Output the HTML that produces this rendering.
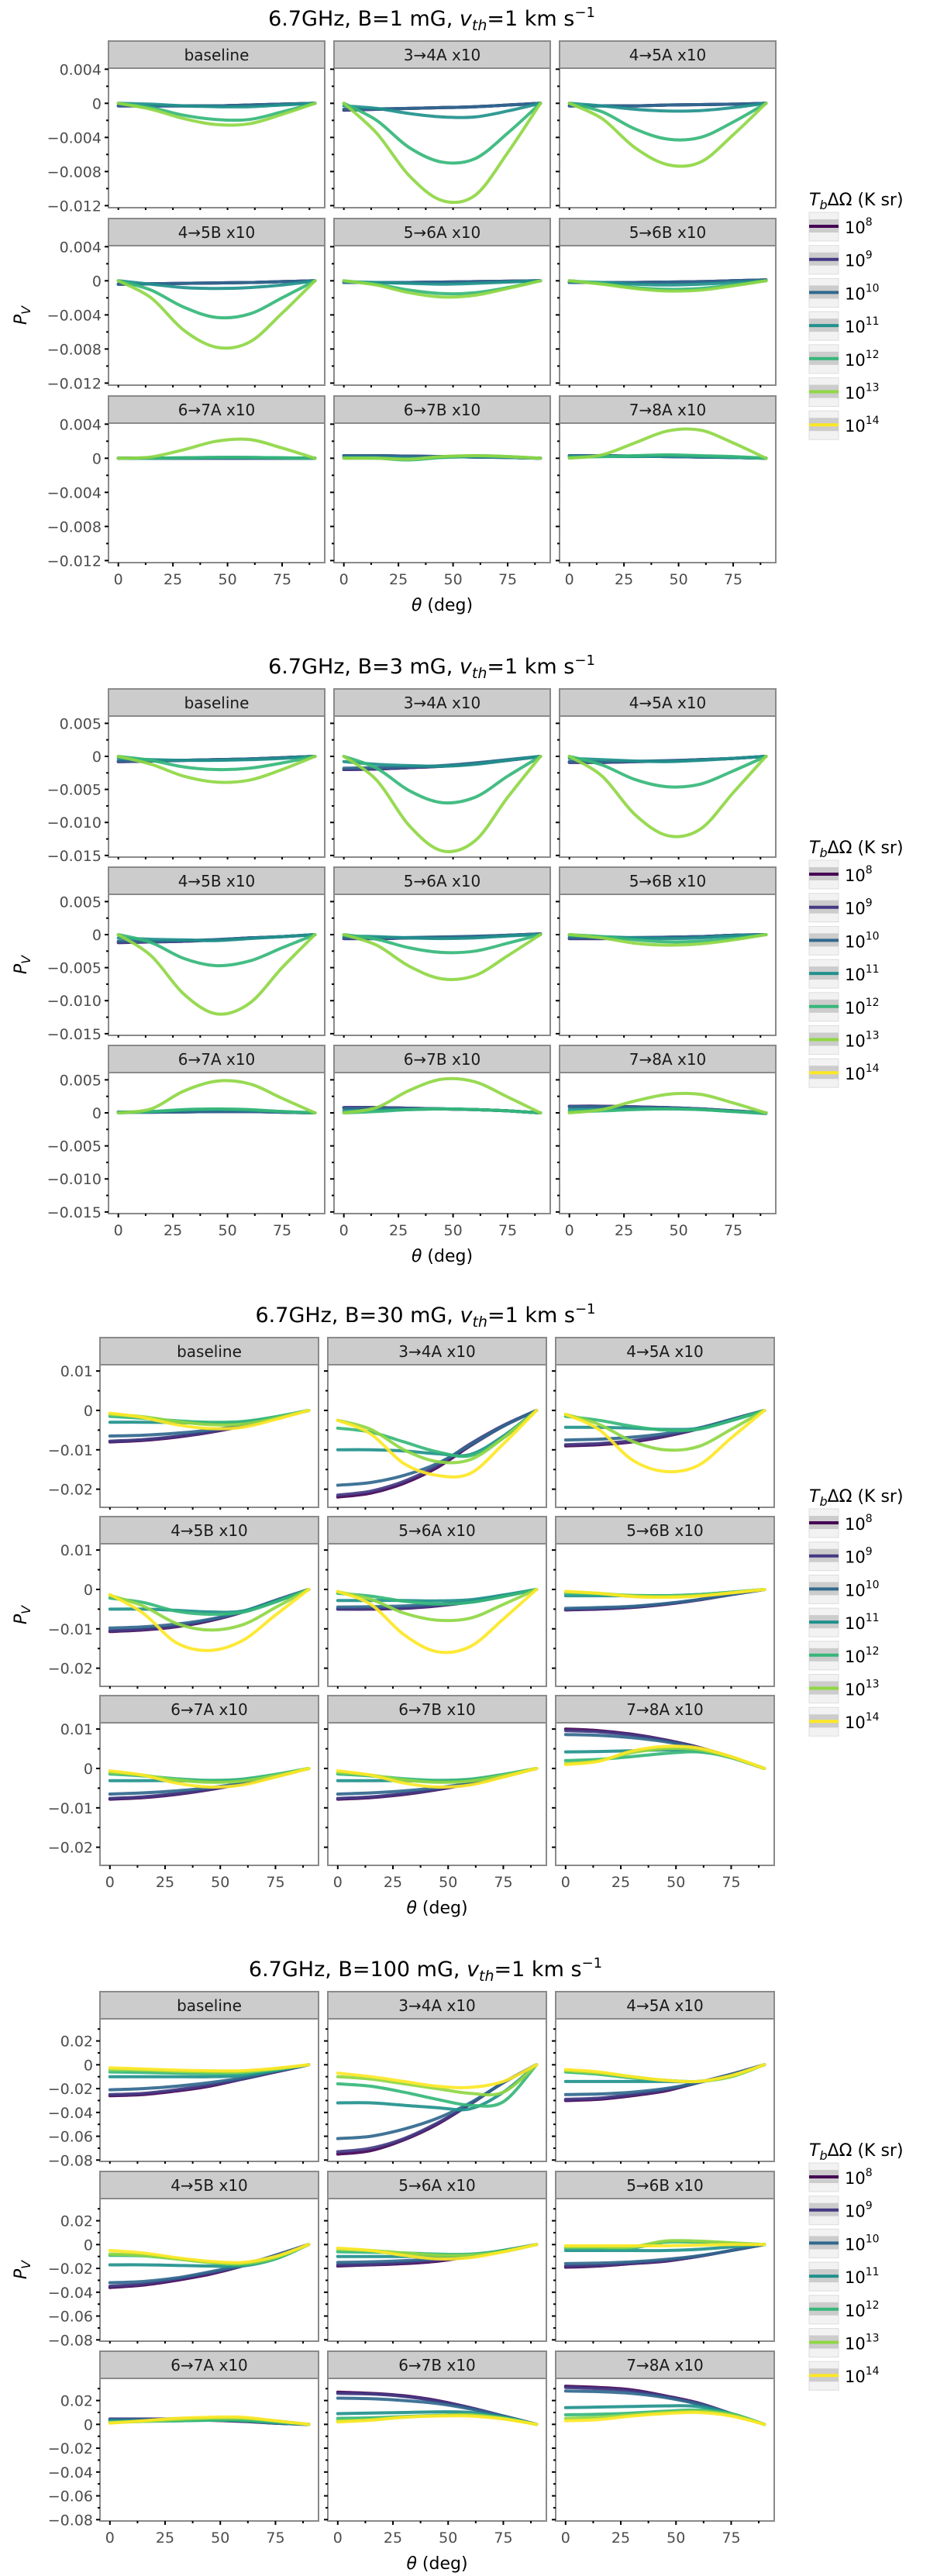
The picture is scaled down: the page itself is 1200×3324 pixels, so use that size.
<!DOCTYPE html>
<html><head><meta charset="utf-8"><style>
html,body{margin:0;padding:0;background:#fff}
svg{display:block}
text{font-family:"DejaVu Sans","Liberation Sans",sans-serif}
</style></head><body>
<svg id="root" width="1200" height="3324" xmlns="http://www.w3.org/2000/svg"></svg>
<script>
const panelNames = ['baseline','3→4A x10','4→5A x10','4→5B x10','5→6A x10','5→6B x10','6→7A x10','6→7B x10','7→8A x10'];
const seriesLabels = ['8','9','10','11','12','13','14'];
const seriesColors = ['#440154','#443983','#31688e','#21918c','#35b779','#8fd744','#fde725'];
const thetas = [0,15,30,45,60,75,90];
const xTicks = [0,25,50,75];
const titleB = ['1','3','30','100'];
const yTicksB1 = [0.004,0,-0.004,-0.008,-0.012];
const yTicksB3 = [0.005,0,-0.005,-0.010,-0.015];
const yTicksB30 = [0.01,0,-0.01,-0.02];
const yTicksB100 = [0.02,0,-0.02,-0.04,-0.06,-0.08];
const yLabB1 = ['0.004','0','\u22120.004','\u22120.008','\u22120.012'];
const yLabB3 = ['0.005','0','\u22120.005','\u22120.010','\u22120.015'];
const yLabB30 = ['0.01','0','\u22120.01','\u22120.02'];
const yLabB100 = ['0.02','0','\u22120.02','\u22120.04','\u22120.06','\u22120.08'];
const yLimB1 = [-0.01224,0.00412];
const yLimB3 = [-0.01525,0.0061];
const yLimB30 = [-0.0246,0.0116];
const yLimB100 = [-0.0811,0.0386];
// values (B=1, B=3 in units of 1e-3; B=30 in 1e-3; B=100 in 1e-2); null = not shown
const valsB1 = [
 [[-0.3,-0.3,-0.3,-0.3,-0.2,-0.1,0],[-0.3,-0.3,-0.3,-0.3,-0.2,-0.1,0],[-0.3,-0.3,-0.3,-0.3,-0.2,-0.1,0],[0,-0.1,-0.3,-0.4,-0.4,-0.2,0],[0,-0.5,-1.4,-1.9,-1.9,-1.0,0],[0,-0.7,-1.8,-2.5,-2.4,-1.3,0],null],
 [[-0.8,-0.7,-0.6,-0.5,-0.4,-0.2,0],[-0.8,-0.7,-0.6,-0.5,-0.4,-0.2,0],[-0.7,-0.65,-0.6,-0.5,-0.4,-0.2,0],[-0.3,-0.6,-1.2,-1.6,-1.6,-0.9,0],[0,-2.0,-5.2,-6.9,-6.5,-3.5,0],[0,-3.5,-8.5,-11.4,-10.8,-5.8,0],null],
 [[-0.3,-0.3,-0.3,-0.2,-0.15,-0.1,0],[-0.3,-0.3,-0.3,-0.2,-0.15,-0.1,0],[-0.3,-0.3,-0.3,-0.2,-0.15,-0.1,0],[0,-0.3,-0.7,-0.9,-0.85,-0.5,0],[0,-1.0,-3.0,-4.2,-4.0,-2.2,0],[0,-1.8,-5.2,-7.2,-6.9,-3.7,0],null],
 [[-0.4,-0.35,-0.3,-0.25,-0.2,-0.1,0],[-0.4,-0.35,-0.3,-0.25,-0.2,-0.1,0],[-0.4,-0.35,-0.3,-0.25,-0.2,-0.1,0],[0,-0.4,-0.8,-0.9,-0.8,-0.5,0],[0,-1.1,-3.1,-4.3,-3.9,-2.0,0],[0,-2.0,-5.8,-7.8,-7.2,-3.8,0],null],
 [[-0.2,-0.2,-0.2,-0.15,-0.1,-0.05,0],[-0.2,-0.2,-0.2,-0.15,-0.1,-0.05,0],[-0.2,-0.2,-0.2,-0.15,-0.1,-0.05,0],[-0.1,-0.2,-0.3,-0.4,-0.3,-0.15,0],[0,-0.4,-1.1,-1.5,-1.4,-0.8,0],[0,-0.5,-1.4,-1.9,-1.7,-0.9,0],null],
 [[-0.2,-0.2,-0.2,-0.15,-0.1,0,0.1],[-0.2,-0.2,-0.2,-0.15,-0.1,0,0.1],[-0.2,-0.2,-0.2,-0.15,-0.1,0,0.1],[-0.1,-0.2,-0.4,-0.5,-0.4,-0.2,0],[0,-0.3,-0.8,-1.0,-0.9,-0.5,0],[0,-0.4,-0.9,-1.2,-1.1,-0.6,0],null],
 [[0,0,0,0,0,0,0],[0,0,0,0,0,0,0],[0,0,0,0,0,0,0],[0,0,0.05,0.1,0.1,0.05,0],[0,0,0.05,0.1,0.1,0.05,0],[0,0.15,1.0,2.0,2.2,1.2,0],null],
 [[0.3,0.3,0.25,0.2,0.15,0.1,0],[0.3,0.3,0.25,0.2,0.15,0.1,0],[0.3,0.3,0.25,0.2,0.15,0.1,0],[0.1,0.1,0,0.1,0.2,0.1,0],[0,0,-0.2,0.1,0.3,0.2,0],[0,0,-0.1,0.2,0.3,0.2,0],null],
 [[0.3,0.3,0.25,0.2,0.15,0.1,0],[0.3,0.3,0.25,0.2,0.15,0.1,0],[0.3,0.3,0.25,0.2,0.15,0.1,0],[0.2,0.2,0.2,0.25,0.2,0.1,0],[0.1,0.2,0.3,0.4,0.3,0.2,0],[0,0.4,1.8,3.2,3.3,1.8,0],null]
];
const valsB3 = [
 [[-0.8,-0.7,-0.6,-0.5,-0.4,-0.2,0],[-0.8,-0.7,-0.6,-0.5,-0.4,-0.2,0],[-0.7,-0.65,-0.6,-0.5,-0.4,-0.2,0],[-0.3,-0.5,-0.6,-0.6,-0.5,-0.3,0],[0,-0.6,-1.6,-2.0,-1.8,-1.0,0],[0,-1.2,-3.0,-3.9,-3.6,-2.0,0],null],
 [[-2.0,-1.9,-1.7,-1.5,-1.1,-0.6,0],[-2.0,-1.9,-1.7,-1.5,-1.1,-0.6,0],[-1.8,-1.7,-1.6,-1.4,-1.0,-0.5,0],[-0.8,-1.2,-1.4,-1.5,-1.2,-0.6,0],[0,-1.8,-5.2,-7.0,-6.2,-3.0,0],[0,-3.6,-10.5,-14.3,-12.8,-6.2,0],null],
 [[-0.9,-0.9,-0.8,-0.7,-0.5,-0.3,0],[-0.9,-0.9,-0.8,-0.7,-0.5,-0.3,0],[-0.8,-0.8,-0.75,-0.65,-0.5,-0.3,0],[-0.3,-0.5,-0.7,-0.8,-0.6,-0.3,0],[0,-1.3,-3.5,-4.6,-4.2,-2.2,0],[0,-3.0,-8.8,-12.0,-11.0,-5.5,0],null],
 [[-1.2,-1.1,-1.0,-0.8,-0.5,-0.3,0],[-1.2,-1.1,-1.0,-0.8,-0.5,-0.3,0],[-1.0,-1.0,-0.9,-0.75,-0.5,-0.3,0],[-0.5,-0.7,-0.8,-0.9,-0.6,-0.3,0],[0,-1.2,-3.6,-4.7,-4.0,-2.0,0],[0,-3.2,-9.0,-12.0,-10.4,-5.0,0],null],
 [[-0.6,-0.6,-0.5,-0.4,-0.3,-0.1,0.1],[-0.6,-0.6,-0.5,-0.4,-0.3,-0.1,0.1],[-0.5,-0.5,-0.45,-0.35,-0.25,-0.1,0.1],[-0.2,-0.3,-0.5,-0.6,-0.5,-0.2,0],[0,-0.7,-2.0,-2.7,-2.5,-1.3,0],[0,-1.6,-4.8,-6.7,-6.2,-3.2,0],null],
 [[-0.6,-0.6,-0.5,-0.4,-0.3,-0.1,0],[-0.6,-0.6,-0.5,-0.4,-0.3,-0.1,0],[-0.5,-0.5,-0.45,-0.4,-0.3,-0.1,0],[-0.2,-0.3,-0.5,-0.6,-0.5,-0.2,0],[0,-0.3,-0.8,-1.1,-1.0,-0.6,0],[0,-0.5,-1.3,-1.6,-1.4,-0.8,0],null],
 [[0.1,0.1,0.15,0.2,0.2,0.1,0],[0.1,0.1,0.15,0.2,0.2,0.1,0],[0.1,0.1,0.15,0.2,0.2,0.1,0],[0.1,0.2,0.4,0.5,0.4,0.2,0],[0,0.2,0.5,0.6,0.5,0.2,0],[0,0.6,3.3,4.8,4.4,2.2,0],null],
 [[0.8,0.8,0.7,0.6,0.5,0.3,0],[0.8,0.8,0.7,0.6,0.5,0.3,0],[0.7,0.7,0.65,0.6,0.5,0.3,0],[0.3,0.4,0.5,0.6,0.5,0.3,0],[0,0.2,0.5,0.6,0.5,0.3,0],[0,0.8,3.4,5.1,4.7,2.4,0],null],
 [[1.0,1.0,0.9,0.8,0.6,0.3,0],[1.0,1.0,0.9,0.8,0.6,0.3,0],[0.9,0.9,0.85,0.75,0.55,0.3,0],[0.5,0.5,0.6,0.6,0.5,0.2,-0.1],[0.2,0.3,0.5,0.6,0.5,0.2,0],[0,0.5,1.8,2.8,2.8,1.5,0],null]
];
const valsB30 = [
 [[-8,-7.6,-6.8,-5.6,-4,-2,0],[-7.8,-7.4,-6.6,-5.5,-3.9,-2,0],[-6.5,-6.3,-5.8,-5.0,-3.8,-2,0],[-3,-3,-3.1,-3.2,-3.0,-1.8,0],[-1.5,-2,-2.6,-3,-2.8,-1.6,0],[-1,-1.6,-2.8,-3.6,-3.5,-2,0],[-0.7,-1.8,-3.6,-4.6,-4.3,-2.3,0]],
 [[-22,-21,-18.5,-14.5,-9,-4,0],[-21.5,-20.5,-18,-14,-8.5,-3.8,0],[-19,-18.3,-16.5,-13.5,-8.8,-4,0],[-10,-10,-10.3,-11,-11.2,-6.5,0],[-4.5,-5.5,-8,-10.5,-11.5,-7,0],[-2.5,-4.8,-10,-13,-12.5,-7,0],[-2.5,-6,-13.5,-16.5,-16,-8.5,0]],
 [[-9,-8.7,-8,-6.6,-4.7,-2.3,0],[-8.7,-8.4,-7.7,-6.4,-4.6,-2.3,0],[-7.5,-7.3,-6.8,-5.9,-4.5,-2.3,0],[-4.3,-4.3,-4.5,-4.8,-4.6,-2.6,0],[-1.5,-2.5,-4,-5,-4.8,-2.6,0],[-1,-3.5,-7.8,-10,-9.2,-4.8,0],[-1,-4.8,-12.5,-15.5,-14,-7,0]],
 [[-10.7,-10.3,-9.5,-8,-5.8,-2.8,0],[-10.5,-10.1,-9.3,-7.8,-5.7,-2.8,0],[-9.8,-9.5,-8.8,-7.6,-5.6,-2.8,0],[-5,-5,-5.3,-5.7,-5.5,-3,0],[-2.2,-3.3,-5.5,-6.3,-5.8,-3.2,0],[-1.5,-4.2,-8.6,-10.3,-9,-4.6,0],[-1.3,-6,-13.5,-15.5,-13,-6.5,0]],
 [[-5,-5,-4.8,-4.2,-3.2,-1.7,0],[-5,-4.9,-4.7,-4.1,-3.2,-1.7,0],[-4.5,-4.4,-4.2,-3.8,-3,-1.6,0],[-2.8,-2.8,-2.8,-2.9,-2.6,-1.4,0],[-1,-1.7,-3,-3.7,-3.3,-1.8,0],[-0.6,-2.5,-6,-7.8,-7.3,-3.8,0],[-0.5,-3.8,-11.5,-15.8,-14.5,-7.5,0]],
 [[-5.2,-5,-4.6,-3.8,-2.7,-1.3,0],[-5.1,-4.9,-4.5,-3.7,-2.6,-1.3,0],[-4.8,-4.6,-4.3,-3.6,-2.6,-1.3,0],[-1.6,-1.6,-1.6,-1.6,-1.3,-0.7,0],[-1,-1.2,-1.5,-1.6,-1.3,-0.7,0],[-0.6,-1,-1.6,-1.8,-1.5,-0.8,0],[-0.5,-1,-1.8,-2,-1.7,-0.9,0]],
 [[-7.8,-7.4,-6.6,-5.4,-3.9,-2,0],[-7.6,-7.2,-6.4,-5.3,-3.8,-2,0],[-6.5,-6.2,-5.7,-4.9,-3.7,-1.9,0],[-3.1,-3.1,-3.1,-3.2,-2.9,-1.7,0],[-1.4,-1.9,-2.6,-3,-2.7,-1.5,0],[-1,-1.7,-2.9,-3.5,-3.2,-1.8,0],[-0.6,-1.7,-3.7,-4.7,-4.2,-2.2,0]],
 [[-7.8,-7.4,-6.6,-5.4,-3.9,-2,0],[-7.6,-7.2,-6.4,-5.3,-3.8,-2,0],[-6.5,-6.2,-5.7,-4.9,-3.7,-1.9,0],[-3.1,-3.1,-3.1,-3.2,-2.9,-1.7,0],[-1.4,-1.9,-2.6,-3,-2.7,-1.5,0],[-1,-1.7,-2.9,-3.5,-3.2,-1.8,0],[-0.6,-1.7,-3.7,-4.7,-4.2,-2.2,0]],
 [[10,9.6,8.7,7.3,5.4,2.9,0],[9.6,9.3,8.5,7.2,5.3,2.8,0],[8.6,8.4,7.8,6.8,5.2,2.8,0],[4.2,4.3,4.5,4.7,4.5,2.7,0],[2,2.3,3,3.8,4.2,2.8,0],[1.2,2,4,5,4.8,2.8,0],[1,1.8,4.4,5.6,5.2,3,0]]
];
const valsB100 = [
 [[-2.6,-2.5,-2.2,-1.8,-1.2,-0.6,0],[-2.5,-2.4,-2.1,-1.7,-1.2,-0.6,0],[-2.1,-2.0,-1.8,-1.5,-1.1,-0.5,0],[-1.0,-1.0,-1.0,-1.0,-0.9,-0.5,0],[-0.6,-0.65,-0.7,-0.75,-0.7,-0.4,0],[-0.4,-0.45,-0.55,-0.6,-0.6,-0.35,0],[-0.25,-0.35,-0.45,-0.5,-0.5,-0.3,0]],
 [[-7.5,-7.2,-6.3,-5,-3.3,-1.5,0],[-7.3,-7.0,-6.2,-4.9,-3.3,-1.5,0],[-6.2,-6.0,-5.4,-4.5,-3.2,-1.5,0],[-3.2,-3.2,-3.4,-3.6,-3.7,-2.3,0],[-1.6,-1.8,-2.3,-2.9,-3.4,-3.1,0],[-1,-1.2,-1.6,-2.0,-2.4,-2.3,0],[-0.7,-1.0,-1.4,-1.8,-1.9,-1.4,0]],
 [[-3,-2.9,-2.6,-2.2,-1.5,-0.8,0],[-2.9,-2.8,-2.5,-2.1,-1.5,-0.8,0],[-2.5,-2.45,-2.3,-2.0,-1.5,-0.8,0],[-1.4,-1.4,-1.4,-1.4,-1.4,-0.9,0],[-0.6,-0.8,-1.1,-1.3,-1.4,-1.0,0],[-0.5,-0.7,-1.0,-1.3,-1.4,-1.0,0],[-0.4,-0.6,-1.0,-1.3,-1.4,-0.9,0]],
 [[-3.6,-3.4,-3.0,-2.5,-1.8,-0.9,0],[-3.5,-3.3,-2.9,-2.4,-1.8,-0.9,0],[-3.2,-3.1,-2.8,-2.3,-1.7,-0.9,0],[-1.7,-1.7,-1.75,-1.8,-1.8,-1.2,0],[-0.9,-0.95,-1.2,-1.5,-1.7,-1.2,0],[-0.8,-0.9,-1.2,-1.5,-1.6,-1.1,0],[-0.5,-0.7,-1.1,-1.4,-1.5,-1.0,0]],
 [[-1.8,-1.7,-1.6,-1.4,-1.0,-0.5,0],[-1.7,-1.65,-1.5,-1.3,-1.0,-0.5,0],[-1.5,-1.45,-1.35,-1.2,-0.9,-0.5,0],[-1.0,-1.0,-1.0,-1.0,-0.9,-0.5,0],[-0.6,-0.65,-0.7,-0.8,-0.8,-0.5,0],[-0.4,-0.5,-0.7,-0.9,-0.9,-0.6,0],[-0.3,-0.5,-0.9,-1.2,-1.1,-0.6,0]],
 [[-1.9,-1.8,-1.6,-1.4,-1.0,-0.5,0],[-1.8,-1.75,-1.55,-1.35,-1.0,-0.5,0],[-1.6,-1.55,-1.45,-1.25,-0.95,-0.5,0],[-0.5,-0.5,-0.5,-0.5,-0.4,-0.2,0],[-0.3,-0.3,-0.3,0.2,0.2,0.1,0],[-0.2,-0.2,-0.2,0.3,0.3,0.15,0],[-0.1,-0.1,-0.1,-0.1,-0.05,0,0]],
 [[0.4,0.4,0.4,0.35,0.25,0.1,0],[0.45,0.45,0.45,0.4,0.3,0.1,0],[0.4,0.4,0.4,0.4,0.3,0.1,0],[0.3,0.3,0.3,0.35,0.3,0.15,0],[0.2,0.25,0.3,0.35,0.35,0.2,0],[0.15,0.25,0.4,0.5,0.5,0.3,0],[0.1,0.3,0.5,0.6,0.6,0.3,0]],
 [[2.7,2.6,2.4,2.0,1.4,0.7,0],[2.6,2.55,2.35,1.95,1.4,0.7,0],[2.2,2.15,2.0,1.75,1.3,0.7,0],[0.9,0.95,1.0,1.05,1.0,0.6,0],[0.5,0.55,0.65,0.75,0.8,0.55,0],[0.3,0.4,0.6,0.75,0.8,0.5,0],[0.2,0.35,0.6,0.7,0.7,0.45,0]],
 [[3.2,3.1,2.9,2.4,1.8,0.9,0],[3.1,3.0,2.8,2.35,1.75,0.9,0],[2.8,2.75,2.6,2.25,1.7,0.9,0],[1.4,1.45,1.5,1.55,1.5,0.9,0],[0.8,0.85,0.95,1.1,1.2,0.9,0],[0.5,0.6,0.8,1.0,1.1,0.8,0],[0.3,0.4,0.7,0.9,1.0,0.7,0]]
];

const NS='http://www.w3.org/2000/svg';
const root=document.getElementById('root');
function mk(tag,attrs,parent,txt){const e=document.createElementNS(NS,tag);for(const k in attrs)e.setAttribute(k,attrs[k]);if(txt!==undefined)e.textContent=txt;(parent||root).appendChild(e);return e;}

const figs=[
 {vals:valsB1,unit:1e-3,ticks:yTicksB1,labs:yLabB1,lim:yLimB1,s:53,pitch:229,ph:180,cols:[140,431,722],pw:279,tx:557},
 {vals:valsB3,unit:1e-3,ticks:yTicksB3,labs:yLabB3,lim:yLimB3,s:889,pitch:230,ph:182,cols:[140,431,722],pw:279,tx:557},
 {vals:valsB30,unit:1e-3,ticks:yTicksB30,labs:yLabB30,lim:yLimB30,s:1726,pitch:231,ph:184,cols:[129,423,717],pw:282,tx:549},
 {vals:valsB100,unit:1e-2,ticks:yTicksB100,labs:yLabB100,lim:yLimB100,s:2570,pitch:232,ph:184,cols:[129,423,717],pw:282,tx:549}
];

function smoothPath(pts){
  let d='M'+pts[0][0].toFixed(1)+','+pts[0][1].toFixed(1);
  for(let i=0;i<pts.length-1;i++){
    const p0=pts[Math.max(0,i-1)],p1=pts[i],p2=pts[i+1],p3=pts[Math.min(pts.length-1,i+2)];
    const c1=[p1[0]+(p2[0]-p0[0])/6,p1[1]+(p2[1]-p0[1])/6];
    const c2=[p2[0]-(p3[0]-p1[0])/6,p2[1]-(p3[1]-p1[1])/6];
    d+=' C'+c1[0].toFixed(1)+','+c1[1].toFixed(1)+' '+c2[0].toFixed(1)+','+c2[1].toFixed(1)+' '+p2[0].toFixed(1)+','+p2[1].toFixed(1);
  }
  return d;
}

figs.forEach((f,fi)=>{
  const g=mk('g',{});
  
  
  const t=mk('text',{x:f.tx,y:f.s-20,'text-anchor':'middle','font-size':27,fill:'#000'},g);
  
  
  t.innerHTML='6.7GHz, B='+titleB[fi]+' mG, <tspan font-style="italic">v</tspan><tspan font-style="italic" font-size="19" dy="6">th</tspan><tspan dy="-6">=1 km s</tspan><tspan font-size="18" dy="-11">\u22121</tspan>';
  const sx=v=>(v+4.5)/99;
  for(let p=0;p<9;p++){
    const r=Math.floor(p/3),c=p%3;
    const L=f.cols[c],W=f.pw,st=f.s+r*f.pitch,T=st+35,H=f.ph;
    const X=v=>L+sx(v)*W;
    const Y=v=>T+(f.lim[1]-v)/(f.lim[1]-f.lim[0])*H;
    const pg=mk('g',{},g);
    
    
    const strip=mk('rect',{x:L,y:st,width:W,height:35,fill:'#cccccc',stroke:'#8a8a8a','stroke-width':2},pg);
    
    
    const stt=mk('text',{x:L+W/2,y:st+25,'text-anchor':'middle','font-size':20,fill:'#1a1a1a'},pg,panelNames[p]);
    
    
    const bg=mk('rect',{x:L,y:T,width:W,height:H,fill:'#fff',stroke:'#8a8a8a','stroke-width':2},pg);
    
    
    // y ticks
    const step=f.ticks[0]-f.ticks[1];
    for(let v=f.ticks[f.ticks.length-1]-step;v<=f.lim[1]+1e-9;v+=step/2){
      if(v<f.lim[0]-1e-9)continue;
      const yy=Y(v);
      const major=f.ticks.some(tv=>Math.abs(tv-v)<step*0.01);
      mk('line',{x1:L-(major?5:3),x2:L,y1:yy,y2:yy,stroke:'#000','stroke-width':2},pg);
    }
    if(c===0){
      f.ticks.forEach((tv,i)=>{
        const tl=mk('text',{x:L-9,y:Y(tv)+7,'text-anchor':'end','font-size':19,fill:'#4d4d4d'},pg,f.labs[i]);
        
        
      });
    }
    for(let v=0;v<=90;v+=12.5){
      const major=(v%25===0);
      mk('line',{x1:X(v),x2:X(v),y1:T+H,y2:T+H+(major&&r===2?5:3),stroke:'#000','stroke-width':2},pg);
    }
    if(r===2){
      xTicks.forEach(tv=>{
        const xl=mk('text',{x:X(tv),y:T+H+28,'text-anchor':'middle','font-size':19,fill:'#4d4d4d'},pg,String(tv));
        
        
      });
    }
    const vals=f.vals[p];
    vals.forEach((sv,si)=>{
      if(!sv)return;
      const pts=sv.map((v,i)=>[X(thetas[i]),Y(v*f.unit)]);
      const ln=mk('path',{d:smoothPath(pts),fill:'none',stroke:seriesColors[si],'stroke-width':4,'stroke-linecap':'round','stroke-linejoin':'round','stroke-opacity':0.92},pg);
      
      
    });
  }
  const lastB=f.s+2*f.pitch+35+f.ph;
  const xt=mk('text',{x:f.cols[1]+f.pw/2,y:lastB+62,'text-anchor':'middle','font-size':22,fill:'#000'},g);
  
  
  xt.innerHTML='<tspan font-style="italic">\u03b8</tspan> (deg)';
  const midY=f.s+f.pitch+35+f.ph/2;
  const yt=mk('text',{x:0,y:0,'text-anchor':'middle','font-size':22,fill:'#000',transform:'translate(34,'+midY+') rotate(-90)'},g);
  
  
  yt.innerHTML='<tspan font-style="italic">P</tspan><tspan font-style="italic" font-size="16" dy="5">V</tspan>';
  // legend
  const lg=mk('g',{},g);
  
  
  const lt=mk('text',{x:1044,y:f.s+212,'font-size':22,fill:'#000'},lg);
  
  
  lt.innerHTML='<tspan font-style="italic">T</tspan><tspan font-style="italic" font-size="16" dy="5">b</tspan><tspan dy="-5">\u0394\u03a9 (K sr)</tspan>';
  seriesLabels.forEach((sl,si)=>{
    const ky=f.s+221+si*42.7;
    const e=mk('g',{},lg);
    
    
    mk('rect',{x:1044,y:ky,width:38,height:37,fill:'#f2f2f2',stroke:'#dddddd','stroke-width':1},e);
    mk('rect',{x:1044,y:ky+9,width:38,height:17,fill:'#cccccc'},e);
    mk('line',{x1:1044,x2:1082,y1:ky+18,y2:ky+18,stroke:seriesColors[si],'stroke-width':4},e);
    const tx=mk('text',{x:1090,y:ky+27,'font-size':21,fill:'#000'},e);
    tx.innerHTML='10<tspan font-size="14" dy="-10">'+sl+'</tspan>';
  });
});
</script>
</body></html>
